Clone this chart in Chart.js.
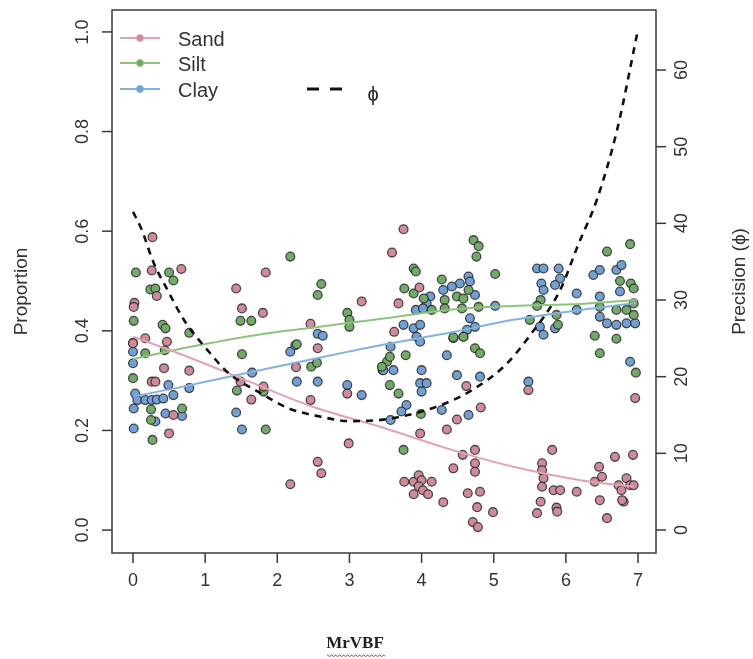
<!DOCTYPE html>
<html>
<head>
<meta charset="utf-8">
<script src="https://cdn.jsdelivr.net/npm/chart.js@4.4.1/dist/chart.umd.min.js"></script>
<style>
html,body{margin:0;padding:0;background:#fff;}
#wrap{width:753px;height:659px;position:relative;}
</style>
</head>
<body>
<div id="wrap"><canvas id="c" width="753" height="659"></canvas></div>
<script>
// ---------- data ----------
const xTicks = [0,1,2,3,4,5,6,7];
const yTicks = [0.0,0.2,0.4,0.6,0.8,1.0];
const y2Ticks = [0,10,20,30,40,50,60];

const sandPoints = [[0.27,0.588],[0.26,0.521],[0.67,0.524],[0.33,0.470],[0.02,0.456],[0.01,0.448],[0.17,0.385],[0.47,0.378],[0.00,0.375],[0.43,0.325],[0.26,0.298],[0.31,0.298],[0.78,0.320],[0.56,0.231],[0.50,0.194],[1.43,0.485],[1.51,0.445],[1.80,0.436],[1.84,0.517],[1.49,0.298],[1.64,0.262],[1.81,0.288],[2.46,0.414],[2.56,0.365],[2.26,0.327],[2.46,0.261],[2.97,0.274],[3.17,0.459],[2.99,0.174],[2.56,0.137],[2.61,0.114],[2.18,0.092],[3.75,0.604],[3.59,0.557],[3.68,0.455],[3.97,0.487],[3.62,0.398],[3.98,0.194],[4.62,0.289],[4.49,0.222],[4.82,0.246],[4.35,0.202],[4.57,0.151],[4.74,0.161],[4.74,0.134],[4.74,0.117],[4.44,0.124],[3.76,0.097],[3.89,0.097],[3.96,0.110],[4.00,0.100],[4.14,0.097],[3.96,0.088],[4.02,0.080],[3.89,0.072],[4.09,0.072],[4.30,0.056],[4.64,0.074],[4.81,0.077],[4.77,0.046],[4.71,0.016],[4.78,0.006],[4.99,0.036],[5.48,0.281],[5.67,0.134],[5.67,0.120],[5.69,0.104],[5.67,0.087],[5.83,0.080],[5.92,0.080],[5.65,0.057],[5.60,0.034],[5.87,0.045],[5.88,0.037],[6.15,0.077],[6.46,0.127],[6.50,0.107],[6.68,0.147],[6.93,0.151],[6.73,0.090],[6.84,0.104],[6.89,0.090],[6.94,0.090],[6.77,0.080],[6.47,0.060],[6.80,0.057],[6.57,0.024],[6.40,0.097],[6.96,0.265],[5.81,0.161],[6.78,0.060]];

const siltPoints = [[0.04,0.517],[0.50,0.517],[0.56,0.501],[0.24,0.483],[0.31,0.485],[0.01,0.420],[0.41,0.412],[0.45,0.405],[0.17,0.355],[0.78,0.396],[0.00,0.305],[0.44,0.361],[0.25,0.242],[0.25,0.221],[0.68,0.244],[0.27,0.181],[2.18,0.549],[2.61,0.494],[2.56,0.472],[1.49,0.420],[1.64,0.420],[1.51,0.353],[2.27,0.373],[2.47,0.328],[2.55,0.336],[1.44,0.280],[1.84,0.202],[2.97,0.436],[3.00,0.422],[3.00,0.408],[1.81,0.278],[4.72,0.582],[4.79,0.570],[4.76,0.549],[3.89,0.525],[3.92,0.519],[4.28,0.503],[3.76,0.485],[5.02,0.514],[3.89,0.475],[4.03,0.465],[4.32,0.462],[4.49,0.469],[4.58,0.465],[4.65,0.482],[4.14,0.442],[4.32,0.445],[4.56,0.445],[4.79,0.448],[4.44,0.387],[4.58,0.388],[4.74,0.365],[4.81,0.355],[3.78,0.351],[3.52,0.338],[3.56,0.348],[3.45,0.328],[3.56,0.291],[3.68,0.274],[3.99,0.233],[3.75,0.161],[6.57,0.559],[6.89,0.574],[6.75,0.500],[6.90,0.495],[6.94,0.485],[6.47,0.448],[6.70,0.442],[6.94,0.455],[6.84,0.442],[6.94,0.432],[6.40,0.390],[6.70,0.384],[6.47,0.355],[6.97,0.316],[5.65,0.462],[5.60,0.450],[5.50,0.422],[5.87,0.432],[5.89,0.412]];

const clayPoints = [[0.00,0.376],[0.00,0.358],[0.00,0.335],[0.03,0.274],[0.06,0.261],[0.01,0.244],[0.17,0.261],[0.26,0.261],[0.33,0.262],[0.42,0.264],[0.49,0.291],[0.56,0.271],[0.31,0.218],[0.45,0.234],[0.68,0.229],[0.78,0.285],[0.01,0.204],[1.65,0.316],[1.43,0.236],[1.51,0.202],[2.18,0.358],[2.25,0.371],[2.27,0.298],[2.56,0.394],[2.63,0.390],[2.56,0.298],[2.97,0.291],[3.17,0.271],[3.46,0.321],[3.57,0.368],[3.57,0.221],[5.60,0.525],[5.69,0.525],[5.90,0.525],[5.92,0.505],[5.85,0.492],[5.66,0.495],[5.69,0.482],[6.15,0.475],[6.38,0.512],[6.47,0.522],[6.70,0.522],[6.77,0.532],[6.75,0.479],[6.47,0.469],[6.47,0.428],[6.57,0.415],[6.70,0.412],[6.84,0.415],[6.96,0.415],[6.89,0.338],[5.64,0.408],[5.69,0.392],[5.85,0.405],[6.15,0.442],[4.65,0.509],[4.67,0.499],[4.53,0.495],[4.42,0.489],[4.30,0.482],[4.12,0.469],[4.07,0.455],[4.74,0.472],[5.02,0.450],[3.92,0.442],[4.02,0.445],[3.75,0.412],[3.89,0.405],[3.98,0.412],[3.93,0.388],[3.98,0.378],[4.67,0.425],[4.74,0.408],[4.63,0.402],[4.58,0.388],[4.44,0.385],[4.35,0.351],[3.47,0.321],[3.61,0.321],[4.00,0.321],[3.98,0.295],[4.07,0.295],[4.00,0.278],[4.49,0.311],[4.81,0.308],[3.79,0.251],[3.72,0.238],[4.28,0.241],[4.65,0.231],[5.48,0.298]];

const sandFitX = [0.0,0.63,1.56,2.48,3.5,4.35,5.27,6.2,6.94];
const sandFitY = [0.388,0.355,0.301,0.248,0.204,0.164,0.127,0.100,0.087];
const siltFitX = [0.0,0.63,1.10,1.56,2.02,2.48,2.94,3.5,4.35,5.27,6.2,6.98];
const siltFitY = [0.343,0.363,0.376,0.388,0.398,0.406,0.415,0.425,0.442,0.450,0.454,0.462];
const clayFitX = [0.0,0.63,1.56,2.48,3.5,4.35,5.27,6.2,6.98];
const clayFitY = [0.268,0.286,0.315,0.343,0.373,0.395,0.422,0.442,0.456];
const phiX = [0,0.12,0.28,0.49,0.72,1.03,1.32,1.76,2.15,2.59,3.01,3.47,3.94,4.35,4.71,5.16,5.48,5.92,6.17,6.43,6.71,7.0];
const phiY = [41.5,39.2,35.0,31.1,27.2,23.5,20.5,17.9,15.9,14.8,14.2,14.4,15.3,16.6,18.3,21.5,25.1,31.3,37.2,43.1,52.2,65.3];

// ---------- styles ----------
const SAND_FILL = '#d08a9a', SILT_FILL = '#72aa68', CLAY_FILL = '#70a0d4';
const SAND_LINE = '#e3a2b2', SILT_LINE = '#8cc47c', CLAY_LINE = '#82b2e2';
const zip = (xs, ys) => xs.map((x, i) => ({x, y: ys[i]}));
const pts = arr => arr.map(p => ({x: p[0], y: p[1]}));

function pointSet(label, data, fill) {
  return {label, data: pts(data), showLine: false, pointRadius: 4.4, pointHoverRadius: 4.4,
    pointBackgroundColor: fill, pointBorderColor: 'rgba(45,45,45,0.85)', pointBorderWidth: 1.3,
    yAxisID: 'y', order: 5};
}
function lineSet(label, xs, ys, color) {
  return {label, data: zip(xs, ys), showLine: true, pointRadius: 0, borderColor: color,
    borderWidth: 2, cubicInterpolationMode: 'monotone', yAxisID: 'y', order: 2};
}

const rPlugin = {
  id: 'rStyle',
  afterDraw(chart) {
    const {ctx, chartArea: a, scales} = chart;
    const x = scales.x, y = scales.y, y2 = scales.y2;
    ctx.save();
    ctx.strokeStyle = '#3a3a3a';
    ctx.lineWidth = 1.5;
    ctx.strokeRect(a.left, a.top, a.right - a.left, a.bottom - a.top);
    ctx.fillStyle = '#333';
    ctx.font = '18px "Liberation Sans", Arial, sans-serif';
    ctx.textAlign = 'center';
    ctx.textBaseline = 'middle';
    // x axis
    xTicks.forEach(v => {
      const px = x.getPixelForValue(v);
      ctx.beginPath(); ctx.moveTo(px, a.bottom); ctx.lineTo(px, a.bottom + 10); ctx.stroke();
      ctx.fillText(String(v), px, a.bottom + 28);
    });
    // left axis
    yTicks.forEach(v => {
      const py = y.getPixelForValue(v);
      ctx.beginPath(); ctx.moveTo(a.left, py); ctx.lineTo(a.left - 10, py); ctx.stroke();
      ctx.save(); ctx.translate(a.left - 29, py); ctx.rotate(-Math.PI / 2);
      ctx.fillText(v.toFixed(1), 0, 0); ctx.restore();
    });
    // right axis
    y2Ticks.forEach(v => {
      const py = y2.getPixelForValue(v);
      ctx.beginPath(); ctx.moveTo(a.right, py); ctx.lineTo(a.right + 10, py); ctx.stroke();
      ctx.save(); ctx.translate(a.right + 26, py); ctx.rotate(-Math.PI / 2);
      ctx.fillText(String(v), 0, 0); ctx.restore();
    });
    // axis titles
    ctx.font = '19px "Liberation Sans", Arial, sans-serif';
    ctx.save(); ctx.translate(22, (a.top + a.bottom) / 2 + 10); ctx.rotate(-Math.PI / 2);
    ctx.fillText('Proportion', 0, 0); ctx.restore();
    ctx.save(); ctx.translate(740, (a.top + a.bottom) / 2); ctx.rotate(-Math.PI / 2);
    ctx.fillText('Precision (\u03D5)', 0, 0); ctx.restore();
    ctx.fillStyle = '#222';
    ctx.font = 'bold 17px "Liberation Serif", "Times New Roman", serif';
    ctx.fillText('MrVBF', 355, 644);
    // red spell-check squiggle under title
    ctx.strokeStyle = '#e05050'; ctx.lineWidth = 1;
    ctx.beginPath();
    for (let i = 0; i <= 58; i++) {
      const xx = 327 + i, yy = 655 + ((i % 4) < 2 ? 0 : 1.5);
      if (i === 0) ctx.moveTo(xx, yy); else ctx.lineTo(xx, yy);
    }
    ctx.stroke();
    // legend
    const items = [['Sand', SAND_LINE, SAND_FILL, 38], ['Silt', SILT_LINE, SILT_FILL, 63], ['Clay', CLAY_LINE, CLAY_FILL, 89]];
    ctx.font = '20px "Liberation Sans", Arial, sans-serif';
    ctx.textAlign = 'left';
    items.forEach(([t, lc, fc, yy]) => {
      ctx.strokeStyle = lc; ctx.lineWidth = 2;
      ctx.beginPath(); ctx.moveTo(120, yy); ctx.lineTo(160, yy); ctx.stroke();
      ctx.fillStyle = fc; ctx.beginPath(); ctx.arc(140, yy, 3.5, 0, Math.PI * 2); ctx.fill();
      ctx.strokeStyle = lc; ctx.lineWidth = 1; ctx.stroke();
      ctx.fillStyle = '#333'; ctx.fillText(t, 178, yy + 2);
    });
    ctx.strokeStyle = '#111'; ctx.lineWidth = 3;
    ctx.beginPath(); ctx.moveTo(307, 89); ctx.lineTo(319, 89); ctx.moveTo(330, 89); ctx.lineTo(342, 89); ctx.stroke();
    ctx.fillStyle = '#222'; ctx.textAlign = 'center';
    ctx.fillText('\u03D5', 373, 95);
    ctx.restore();
  }
};

new Chart(document.getElementById('c'), {
  type: 'scatter',
  data: {
    datasets: [
      lineSet('Sand fit', sandFitX, sandFitY, SAND_LINE),
      lineSet('Silt fit', siltFitX, siltFitY, SILT_LINE),
      lineSet('Clay fit', clayFitX, clayFitY, CLAY_LINE),
      {label: '\u03D5', data: zip(phiX, phiY), showLine: true, pointRadius: 0, borderColor: '#111',
       borderWidth: 2.6, borderDash: [7, 6], cubicInterpolationMode: 'monotone', yAxisID: 'y2', order: 1},
      pointSet('Sand', sandPoints, SAND_FILL),
      pointSet('Silt', siltPoints, SILT_FILL),
      pointSet('Clay', clayPoints, CLAY_FILL)
    ]
  },
  options: {
    responsive: false,
    animation: false,
    events: [],
    layout: {padding: {left: 112, right: 97, top: 10, bottom: 106}},
    plugins: {legend: {display: false}, tooltip: {enabled: false}},
    scales: {
      x: {type: 'linear', min: -0.291, max: 7.249, display: false},
      y: {type: 'linear', min: -0.046, max: 1.044, display: false},
      y2: {type: 'linear', position: 'right', min: -3.0, max: 67.83, display: false}
    }
  },
  plugins: [rPlugin]
});
</script>
</body>
</html>
